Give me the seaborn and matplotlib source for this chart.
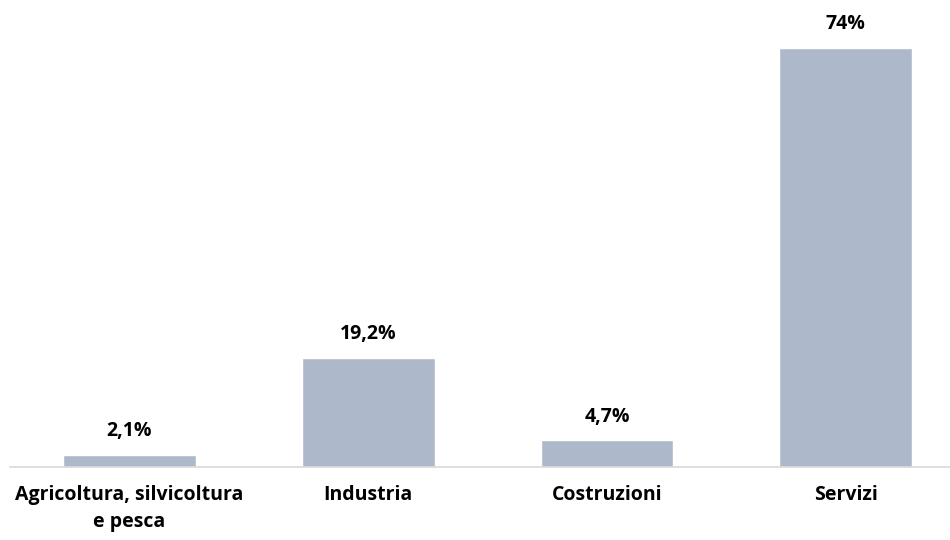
import matplotlib
matplotlib.use("Agg")
import pandas as pd
import seaborn as sns
import matplotlib.pyplot as plt

categories = ["Agricoltura, silvicoltura\ne pesca", "Industria", "Costruzioni", "Servizi"]
values = [2.1, 19.2, 4.7, 74.0]
value_labels = ["2,1%", "19,2%", "4,7%", "74%"]

df = pd.DataFrame({"settore": categories, "quota": values})

sns.set_style("white")
plt.rcParams["font.family"] = ["Open Sans", "DejaVu Sans"]

fig = plt.figure(figsize=(9.5, 5.4), dpi=100)
ax = fig.add_axes([10 / 950, 73 / 540, 940 / 950, 467 / 540])

sns.barplot(data=df, x="settore", y="quota", color="#adb9ca", saturation=1,
            width=0.556, ax=ax)

for i, (v, lab) in enumerate(zip(values, value_labels)):
    ax.annotate(lab, (i, v), xytext=(0, 10), textcoords="offset points",
                ha="center", va="bottom", fontsize=14, fontweight="bold", color="black")

ax.set_xlim(-0.5, 3.437)
ax.set_ylim(0, 82.5)
ax.set_xlabel("")
ax.set_ylabel("")
ax.set_yticks([])
for s in ["top", "right", "left"]:
    ax.spines[s].set_visible(False)
ax.spines["bottom"].set_color("#d9d9d9")
ax.spines["bottom"].set_linewidth(1.2)
ax.tick_params(axis="x", length=0, pad=13)
for t in ax.get_xticklabels():
    t.set_fontsize(14)
    t.set_fontweight("bold")
    t.set_color("black")
    t.set_multialignment("center")
    t.set_linespacing(1.45)

fig.savefig("out.png", dpi=100)
